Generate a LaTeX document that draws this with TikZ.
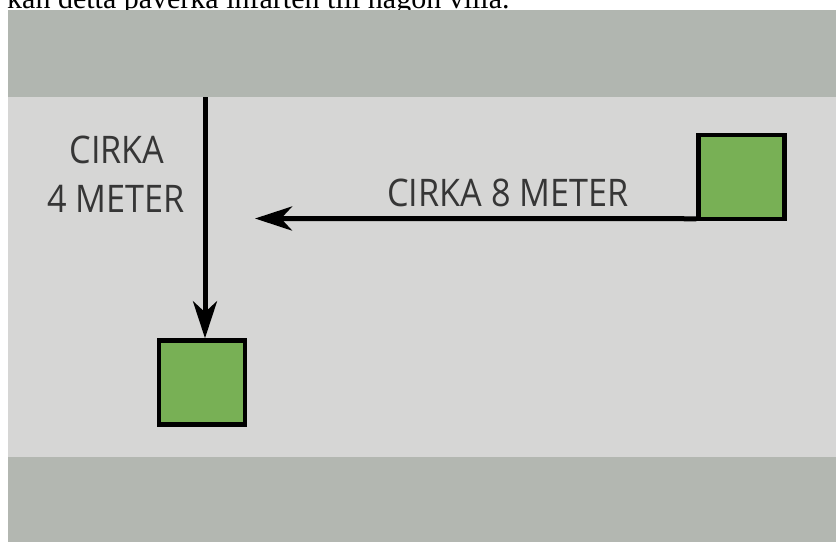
\documentclass[tikz,border=0pt]{standalone}
\usepackage{fontspec}
\setmainfont{Liberation Serif}
\newfontfamily\labelfont[FakeStretch=0.9]{Open Sans}
\usetikzlibrary{arrows.meta}
\definecolor{bandgray}{HTML}{B1B6B0}
\definecolor{lowgray}{HTML}{B3B7B1}
\definecolor{roadgray}{HTML}{D6D6D5}
\definecolor{plotgreen}{HTML}{78B055}
\definecolor{labelgray}{HTML}{363636}
\tikzset{
  plotbox/.style={draw=black, fill=plotgreen, line width=4.5pt, minimum width=86pt, minimum height=84pt, inner sep=0pt},
  distarrow/.style={draw=black, line width=5pt, -{Stealth[length=37pt,width=24pt,inset=11pt]}},
  distlabel/.style={font=\labelfont\fontsize{38}{44}\selectfont, text=labelgray, inner sep=0pt, anchor=base},
}
\begin{document}
\begin{tikzpicture}[x=1pt,y=-1pt]
\useasboundingbox[clip] (0,0) rectangle (836,542);
\fill[white] (0,0) rectangle (836,542);
% cut-off caption line above the picture
\node[anchor=base west, inner sep=0pt, font=\fontsize{30}{34}\selectfont] (cap) at (7,8) {kan detta påverka infarten till någon villa.};
% bands
\fill[bandgray] (8,10) rectangle (836,97);
\fill[roadgray] (8,97) rectangle (836,457);
\fill[lowgray] (8,457) rectangle (836,542);
% plots
\node[plotbox] (A) at (741.5,177) {};
\node[plotbox] (B) at (202,382.5) {};
% arrows
\coordinate (vtop) at (205,97);
\coordinate (hend) at (255,218.5);
\draw[distarrow] (vtop) -- (vtop |- B.north);
\draw[distarrow] ([yshift=2.5pt]A.south west) -- (hend);
% labels
\node[distlabel] (l4a) at (117,163) {CIRKA};
\node[distlabel] (l4b) at (116,212) {4 METER};
\node[distlabel] (l8) at (508,206) {CIRKA 8 METER};
\end{tikzpicture}
\end{document}
